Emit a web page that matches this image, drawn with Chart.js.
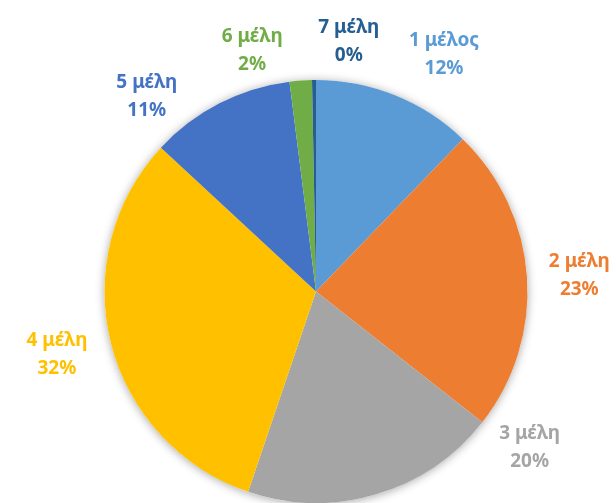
<!DOCTYPE html>
<html>
<head>
<meta charset="utf-8">
<script src="https://cdn.jsdelivr.net/npm/chart.js@4"></script>
<style>
  html, body { margin: 0; padding: 0; background: #fff; }
  #wrap { width: 616px; height: 503px; }
</style>
</head>
<body>
<div id="wrap"><canvas id="mychart"></canvas></div>
<script>
// μέγεθος νοικοκυριού
const categories = ['1 μέλος', '2 μέλη', '3 μέλη', '4 μέλη', '5 μέλη', '6 μέλη', '7 μέλη'];
const shares = [12.2, 23.4, 19.6, 31.7, 11.1, 1.7, 0.3];
const colors = ['#5B9BD5', '#ED7D31', '#A5A5A5', '#FFC000', '#4472C4', '#70AD47', '#255E91'];

// label anchors, relative to pie centre in units of radius (like the moved labels in excel)
const labelAnchors = [[0.605, -1.12], [1.245, -0.076], [1.01, 0.74], [-1.225, 0.30], [-0.80, -0.92], [-0.302, -1.14], [0.155, -1.18]];

const shadowPlugin = {
    id: 'pieShadow',
    beforeDatasetsDraw(chart) {
        const arc = chart.getDatasetMeta(0).data[0];
        if (!arc) return;
        const ctx = chart.ctx;
        ctx.save();
        ctx.shadowColor = 'rgba(0,0,0,0.35)';
        ctx.shadowBlur = 10;
        ctx.shadowOffsetY = 1;
        ctx.fillStyle = '#fff';
        ctx.beginPath();
        ctx.arc(arc.x, arc.y, arc.outerRadius, 0, Math.PI * 2);
        ctx.fill();
        ctx.restore();
    }
};

const labelPlugin = {
    id: 'outLabels',
    afterDatasetsDraw(chart) {
        const ctx = chart.ctx;
        const meta = chart.getDatasetMeta(0);
        const total = shares.reduce((a, b) => a + b, 0);
        ctx.save();
        ctx.font = 'bold 19px "Noto Sans"';
        ctx.textAlign = 'center';
        ctx.textBaseline = 'middle';
        meta.data.forEach((arc, i) => {
            const x = arc.x + labelAnchors[i][0] * arc.outerRadius;
            const y = arc.y + labelAnchors[i][1] * arc.outerRadius;
            ctx.fillStyle = colors[i];
            ctx.fillText(categories[i], x, y - 14);
            ctx.fillText(Math.round(shares[i] / total * 100) + '%', x, y + 14);
        });
        ctx.restore();
    }
};

let ctx = document.getElementById('mychart');
let myChart = new Chart(ctx, {
    type: 'pie',
    data: {
        labels: categories,
        datasets: [{
            data: shares,
            backgroundColor: colors,
            borderWidth: 0,
        }],
    },
    options: {
        responsive: true,
        maintainAspectRatio: false,
        animation: false,
        layout: {
            padding: { top: 80, bottom: 0, left: 16, right: 0 },
        },
        plugins: {
            legend: { display: false },
            tooltip: { enabled: false },
        },
    },
    plugins: [shadowPlugin, labelPlugin],
});
</script>
</body>
</html>
